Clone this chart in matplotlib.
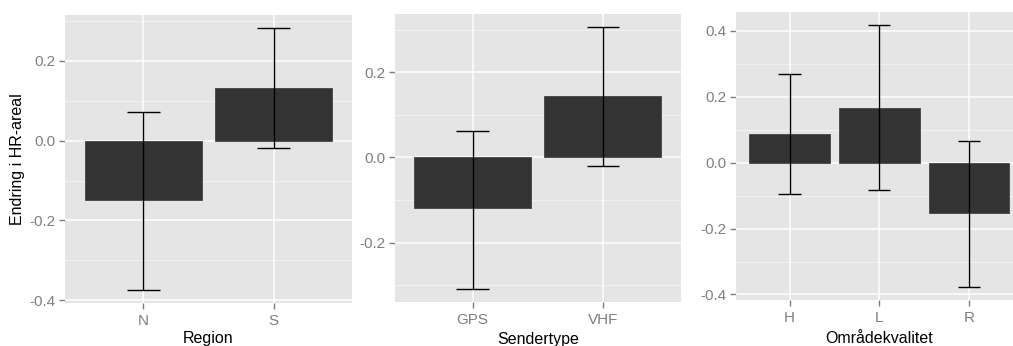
import matplotlib
matplotlib.use("Agg")
import matplotlib.pyplot as plt
import numpy as np

plt.rcParams['font.family'] = ['Liberation Sans', 'DejaVu Sans']
plt.rcParams['axes.unicode_minus'] = False

# Data
region_cats = ['N', 'S']
region_mean = [-0.149, 0.132]
region_lo = [-0.374, -0.019]
region_hi = [0.072, 0.282]

sender_cats = ['GPS', 'VHF']
sender_mean = [-0.118, 0.144]
sender_lo = [-0.308, -0.019]
sender_hi = [0.063, 0.306]

quality_cats = ['H', 'L', 'R']
quality_mean = [0.088, 0.167, -0.153]
quality_lo = [-0.096, -0.084, -0.377]
quality_hi = [0.269, 0.417, 0.067]

ylabel_text = 'Endring i HR-areal'
panels = [
    (region_cats, region_mean, region_lo, region_hi, 'Region', [0.2, 0.0, -0.2, -0.4], [0.3, 0.1, -0.1, -0.3]),
    (sender_cats, sender_mean, sender_lo, sender_hi, 'Sendertype', [0.2, 0.0, -0.2], [0.3, 0.1, -0.1, -0.3]),
    (quality_cats, quality_mean, quality_lo, quality_hi, 'Områdekvalitet', [0.4, 0.2, 0.0, -0.2, -0.4], [0.3, 0.1, -0.1, -0.3]),
]

W, H = 1013, 346
fig = plt.figure(figsize=(W / 100, H / 100), dpi=100)
fig.patch.set_facecolor('white')

# axes boxes in pixels: left, top, right, bottom
boxes = [
    (65, 15, 352, 303),
    (394.5, 14, 681, 301.7),
    (735.7, 12.3, 1022.7, 300),
]
label_pads = [2.2, 3.5, 4]

BG = '#E5E5E5'
TICKC = '#7F7F7F'
BARC = '#333333'

for (cats, mean, lo, hi, xlabel, majors, minors), (l, t, r, b), lp in zip(panels, boxes, label_pads):
    ax = fig.add_axes([l / W, 1 - b / H, (r - l) / W, (b - t) / H])
    ax.set_facecolor(BG)
    for s in ax.spines.values():
        s.set_visible(False)
    x = np.arange(len(cats))
    # grid
    ax.set_axisbelow(True)
    for m in minors:
        ax.axhline(m, color='#F2F2F2', lw=0.7, zorder=0.5)
    for m in majors:
        ax.axhline(m, color='white', lw=1.1, zorder=0.6)
    for xi in x:
        ax.axvline(xi, color='white', lw=1.1, zorder=0.6)
    ax.bar(x, mean, width=0.9, color=BARC, edgecolor='#444444', linewidth=0.6, zorder=2)
    ax.vlines(x, lo, hi, color='black', lw=1.0, zorder=3)
    ax.hlines(lo, x - 0.125, x + 0.125, color='black', lw=1.0, zorder=3)
    ax.hlines(hi, x - 0.125, x + 0.125, color='black', lw=1.0, zorder=3)
    ymin, ymax = min(lo), max(hi)
    pad = 0.05 * (ymax - ymin)
    ax.set_ylim(ymin - pad, ymax + pad)
    ax.set_xlim(-0.6, len(cats) - 1 + 0.6)
    ax.set_xticks(x)
    ax.set_xticklabels(cats)
    ax.set_yticks(majors)
    ax.set_yticklabels(['%.1f' % v for v in majors])
    ax.tick_params(axis='both', colors=TICKC, labelcolor=TICKC, labelsize=11,
                   length=4, width=1.0)
    ax.tick_params(axis='x', pad=4)
    ax.tick_params(axis='y', pad=2.5)
    ax.set_xlabel(xlabel, fontsize=11.5, color='black', labelpad=lp)

fig.text(17.5 / W, 1 - 159 / H, ylabel_text, rotation=90, ha='center', va='center',
         fontsize=11.5, color='black')

fig.savefig('out.png', dpi=100, facecolor='white')
